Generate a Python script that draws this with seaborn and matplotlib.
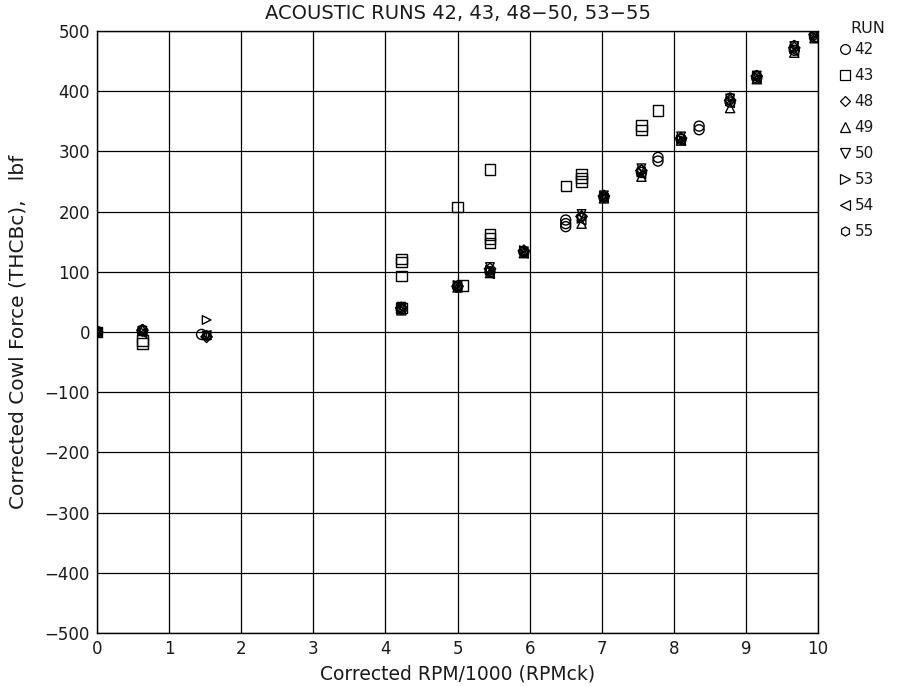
import matplotlib
matplotlib.use("Agg")
import matplotlib.pyplot as plt
from matplotlib.lines import Line2D
import seaborn as sns
import pandas as pd

# Corrected RPM/1000 and corrected cowl force (lbf) for each acoustic run
runs = ["42", "43", "48", "49", "50", "53", "54", "55"]

rpm_42 = [0, 0.63, 1.45, 4.22, 5.0, 5.45, 5.92, 6.5, 6.5, 6.5, 7.03, 7.55, 7.78, 7.78, 8.1, 8.35, 8.35, 8.78, 9.15, 9.67, 9.95]
thc_42 = [1, 2, -4, 38, 75, 100, 133, 175, 180, 186, 224, 265, 284, 290, 320, 336, 342, 382, 422, 468, 490]

rpm_43 = [0, 0.63, 0.63, 4.22, 4.22, 4.22, 4.22, 5.0, 5.07, 5.45, 5.45, 5.45, 5.45, 6.5, 6.72, 6.72, 6.72, 7.55, 7.55, 7.78]
thc_43 = [0, -14, -19, 121, 116, 93, 40, 208, 77, 270, 162, 155, 148, 243, 262, 256, 250, 343, 336, 368]

rpm_common = [0, 0.63, 1.52, 4.22, 5.0, 5.45, 5.92, 6.72, 7.03, 7.55, 8.1, 8.78, 9.15, 9.67, 9.95]
thc_48 = [0, 3, -8, 40, 76, 105, 135, 192, 226, 268, 322, 385, 425, 472, 494]
thc_49 = [1, 4, -5, 36, 74, 98, 131, 180, 222, 258, 318, 372, 420, 464, 488]
thc_50 = [0, 2, -6, 42, 77, 108, 134, 196, 227, 272, 325, 388, 426, 475, 496]
thc_53 = [1, 1, 20, 38, 78, 103, 136, 188, 225, 265, 320, 383, 424, 470, 492]
thc_54 = [0, -2, -5, 41, 75, 96, 130, 185, 223, 262, 318, 380, 421, 466, 487]
thc_55 = [2, 5, -7, 39, 76, 101, 132, 190, 224, 270, 323, 390, 427, 477, 497]

x_ticks = [0, 1, 2, 3, 4, 5, 6, 7, 8, 9, 10]
y_ticks = [-500, -400, -300, -200, -100, 0, 100, 200, 300, 400, 500]

series = {
    "42": (rpm_42, thc_42),
    "43": (rpm_43, thc_43),
    "48": (rpm_common, thc_48),
    "49": (rpm_common, thc_49),
    "50": (rpm_common, thc_50),
    "53": (rpm_common, thc_53),
    "54": (rpm_common, thc_54),
    "55": (rpm_common, thc_55),
}
markers = {"42": "o", "43": "s", "48": "D", "49": "^", "50": "v", "53": ">", "54": "<", "55": "h"}
sizes = {"42": 52, "43": 56, "48": 34, "49": 44, "50": 38, "53": 38, "54": 38, "55": 40}
legend_sizes = {"42": 7, "43": 7, "48": 5.5, "49": 7, "50": 6.5, "53": 6.5, "54": 6.5, "55": 6.5}

rows = []
for r in runs:
    xs, ys = series[r]
    for xv, yv in zip(xs, ys):
        rows.append({"RPMck": xv, "THCBc": yv, "Run": r})
df = pd.DataFrame(rows)

sns.set_style("white")
plt.rcParams["font.family"] = ["DejaVu Sans"]
ink = "#1a1a1a"

fig = plt.figure(figsize=(9.11, 6.86), dpi=100)
ax = fig.add_axes([0.1065, 0.0773, 0.7915, 0.8775])

for r in runs:
    sub = df[df["Run"] == r]
    sns.scatterplot(data=sub, x="RPMck", y="THCBc", marker=markers[r], s=sizes[r],
                    color="black", linewidth=1.0, legend=False, ax=ax)
for coll in ax.collections:
    coll.set_facecolor("none")
    coll.set_edgecolor("black")
    coll.set_linewidth(1.0)

ax.set_xlim(0, 10)
ax.set_ylim(-500, 500)
ax.set_xticks(x_ticks)
ax.set_yticks(y_ticks)
ax.set_xticklabels([str(t) for t in x_ticks], fontsize=12)
ax.set_yticklabels([str(t).replace("-", "\u2212") for t in y_ticks], fontsize=12)
ax.tick_params(axis="x", length=0, pad=5, colors=ink)
ax.tick_params(axis="y", length=0, pad=5, colors=ink)
ax.grid(True, color="black", linewidth=0.9)
ax.set_axisbelow(True)
for sp in ax.spines.values():
    sp.set_color("black")
    sp.set_linewidth(1.0)

ax.set_xlabel("Corrected RPM/1000 (RPMck)", fontsize=13.5, labelpad=5, color=ink)
ax.set_ylabel("Corrected Cowl Force (THCBc),   lbf", fontsize=14.5, labelpad=12, color=ink)
ax.set_title("ACOUSTIC RUNS 42, 43, 48\u221250, 53\u221255", fontsize=14, pad=9, color=ink)

# Run legend to the right of the plot area
fig.text(0.953, 0.959, "RUN", ha="center", va="center", fontsize=11.5, color=ink)
handles = [Line2D([], [], linestyle="none", marker=markers[r], markersize=legend_sizes[r],
                  markerfacecolor="none", markeredgecolor="black", markeredgewidth=0.9)
           for r in runs]
fig.legend(handles, runs, loc="upper left",
           bbox_to_anchor=(0.913, 0.947), frameon=False, fontsize=11,
           labelspacing=0.72, handlelength=0.9,
           handletextpad=0.2, borderaxespad=0, labelcolor=ink)

fig.savefig("out.png", dpi=100)
